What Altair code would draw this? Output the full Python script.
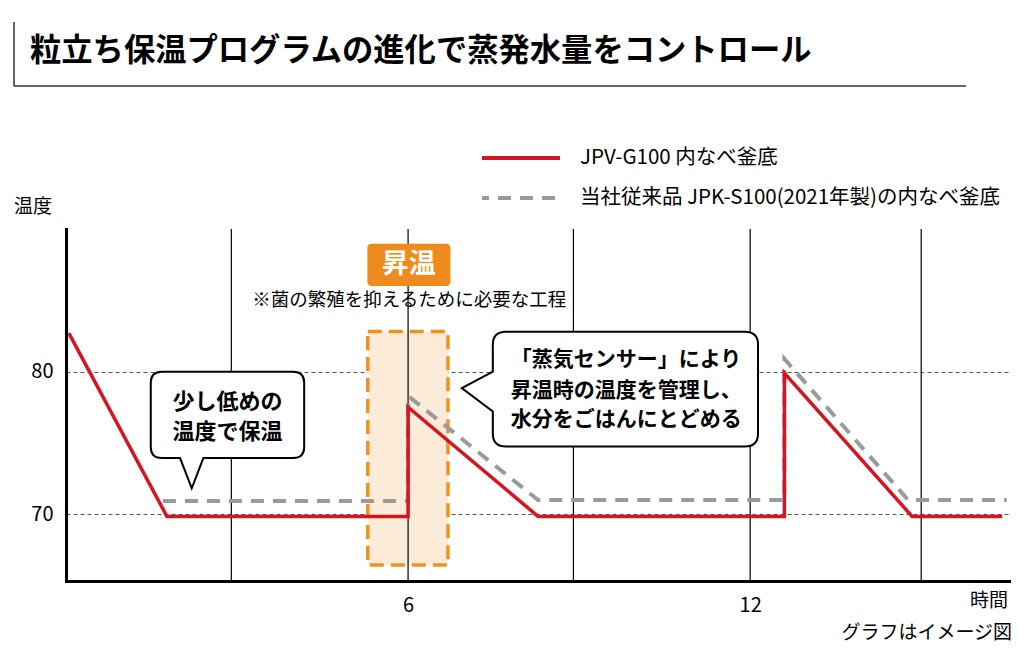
import altair as alt
import pandas as pd

# ---------------- data ----------------
series_names = ["JPV-G100 内なべ釜底", "当社従来品 JPK-S100(2021年製)の内なべ釜底"]
red_x = [0.05, 1.77, 6.0, 6.0, 8.28, 12.6, 12.6, 14.84, 16.42]
red_y = [82.7, 69.85, 69.85, 77.5, 69.85, 69.85, 79.9, 69.85, 69.85]
gray_x = [1.70, 6.0, 6.0, 8.28, 12.6, 12.6, 14.77, 16.5]
gray_y = [70.93, 70.93, 78.3, 71.0, 71.0, 80.9, 71.0, 71.0]
x_ticks = [6, 12]
y_ticks = [70, 80]
v_grid = [2.9, 6, 8.9, 12, 15]

title_text = "粒立ち保温プログラムの進化で蒸発水量をコントロール"
bubble1_lines = ["少し低めの", "温度で保温"]
bubble2_lines = ["「蒸気センサー」により", "昇温時の温度を管理し、", "水分をごはんにとどめる"]
heat_label = "昇温"
heat_note = "※菌の繁殖を抑えるために必要な工程"

FONT = "Noto Sans CJK JP"
RED = "#d7141f"
GRAY = "#9a9a9a"
ORANGE = "#ef8a1c"

xs = alt.Scale(domain=[0, 16.54], nice=False, zero=False)
ys = alt.Scale(domain=[65.32, 90.0], nice=False, zero=False)

x_axis = alt.Axis(values=x_ticks, title=None, grid=False, ticks=False, domainColor="black",
                  domainWidth=3, domainCap="square", labelFont=FONT, labelFontSize=20,
                  labelColor="black", labelPadding=14, labelFlush=False, format="d")
y_axis = alt.Axis(values=y_ticks, title=None, grid=True, gridColor="#555555", gridDash=[4, 3],
                  gridWidth=1, ticks=False, domainColor="black", domainWidth=3, domainCap="square",
                  labelFont=FONT, labelFontSize=20, labelColor="black", labelPadding=13, format="d")


def X(field="x"):
    return alt.X(f"{field}:Q", scale=xs, axis=x_axis)


def Y(field="y"):
    return alt.Y(f"{field}:Q", scale=ys, axis=y_axis)


one = pd.DataFrame({"k": [0]})

# ---------------- orange "heating" zone ----------------
zone_df = pd.DataFrame({"x": [5.293], "x2": [6.70], "y": [82.82], "y2": [66.44]})
zone_fill = alt.Chart(zone_df).mark_rect(fill="#fdebd9").encode(x=X(), x2="x2", y=Y(), y2="y2")
zone_stroke = alt.Chart(zone_df).mark_rect(fillOpacity=0, stroke="#f0931e", strokeWidth=3.5,
                                           strokeDash=[14, 7]).encode(x=X(), x2="x2", y=Y(), y2="y2")

grid_df = pd.DataFrame({"x": v_grid})
vgrid = alt.Chart(grid_df).mark_rule(color="black", strokeWidth=1.2).encode(x=X())

# ---------------- series ----------------
red_df = pd.DataFrame({"x": red_x, "y": red_y, "o": list(range(len(red_x)))})
gray_df = pd.DataFrame({"x": gray_x, "y": gray_y, "o": list(range(len(gray_x)))})

gray_line = alt.Chart(gray_df).mark_line(color=GRAY, strokeWidth=4, strokeDash=[13, 9],
                                         strokeCap="butt").encode(x=X(), y=Y(), order="o:Q")
red_line = alt.Chart(red_df).mark_line(color=RED, strokeWidth=3.5, strokeJoin="miter").encode(
    x=X(), y=Y(), order="o:Q")


# ---------------- speech bubbles ----------------
def bubble_path(W, H, r, tail, side, k=100.0):
    f = lambda v: f"{v / k:.4f}"
    p = [f"M{f(-W + r)},{f(-H)}", f"L{f(W - r)},{f(-H)}", f"Q{f(W)},{f(-H)} {f(W)},{f(-H + r)}",
         f"L{f(W)},{f(H - r)}", f"Q{f(W)},{f(H)} {f(W - r)},{f(H)}"]
    if side == "bottom":
        (b1, b2, tx, ty) = tail
        p += [f"L{f(b2)},{f(H)}", f"L{f(tx)},{f(ty)}", f"L{f(b1)},{f(H)}"]
    p += [f"L{f(-W + r)},{f(H)}", f"Q{f(-W)},{f(H)} {f(-W)},{f(H - r)}"]
    if side == "left":
        (b1, b2, tx, ty) = tail
        p += [f"L{f(-W)},{f(b2)}", f"L{f(tx)},{f(ty)}", f"L{f(-W)},{f(b1)}"]
    p += [f"L{f(-W)},{f(-H + r)}", f"Q{f(-W)},{f(-H)} {f(-W + r)},{f(-H)}", "Z"]
    return " ".join(p)


b1_path = bubble_path(76.7, 43.2, 11, (-47.4, -24.1, -35.7, 73.4), "bottom")
b2_path = bubble_path(132.6, 57.3, 13, (-17.6, 22.4, -163.6, -1.0), "left")

bub1 = alt.Chart(pd.DataFrame({"x": [2.832], "y": [76.97]})).mark_point(
    shape=b1_path, size=40000, filled=True, fill="white", stroke="black", strokeWidth=2,
    opacity=1, fillOpacity=1, strokeOpacity=1).encode(x=X(), y=Y())
bub2 = alt.Chart(pd.DataFrame({"x": [9.812], "y": [78.77]})).mark_point(
    shape=b2_path, size=40000, filled=True, fill="white", stroke="black", strokeWidth=2,
    opacity=1, fillOpacity=1, strokeOpacity=1).encode(x=X(), y=Y())

b1_text = alt.Chart(pd.DataFrame({"x": [2.833, 2.833], "y": [77.9, 75.8], "t": bubble1_lines})).mark_text(
    font=FONT, fontSize=22, fontWeight="bold", color="black", align="center", baseline="middle").encode(
    x=X(), y=Y(), text="t:N")
b2_text = alt.Chart(pd.DataFrame({"x": [7.80] * 3, "y": [80.8, 78.65, 76.6], "t": bubble2_lines})).mark_text(
    font=FONT, fontSize=21, fontWeight="bold", color="black", align="left", baseline="middle").encode(
    x=X(), y=Y(), text="t:N")

# ---------------- heating label ----------------
heat_box = alt.Chart(pd.DataFrame({"x": [5.286], "x2": [6.743], "y": [88.96], "y2": [86.01]})).mark_rect(
    fill=ORANGE, cornerRadius=4).encode(x=X(), x2="x2", y=Y(), y2="y2")
heat_txt = alt.Chart(pd.DataFrame({"x": [6.01], "y": [87.5], "t": [heat_label]})).mark_text(
    font=FONT, fontSize=27, fontWeight="bold", color="white", align="center", baseline="middle").encode(
    x=X(), y=Y(), text="t:N")
note_txt = alt.Chart(pd.DataFrame({"x": [6.02], "y": [85.03], "t": [heat_note]})).mark_text(
    font=FONT, fontSize=18.5, color="black", align="center", baseline="middle").encode(
    x=X(), y=Y(), text="t:N")

# ---------------- decorations: title, legend, axis titles ----------------
title_mark = alt.Chart(one).mark_text(text=title_text, font=FONT, fontSize=31.3, fontWeight="bold",
                                      color="black", align="left", baseline="middle").encode(
    x=alt.value(-36), y=alt.value(-177))
title_v = alt.Chart(one).mark_rule(color="#333333", strokeWidth=1.5).encode(
    x=alt.value(-52), y=alt.value(-207), y2=alt.value(-143))
title_h = alt.Chart(one).mark_rule(color="#333333", strokeWidth=1.5).encode(
    x=alt.value(-52), x2=alt.value(900), y=alt.value(-143))

leg_red = alt.Chart(one).mark_rule(color=RED, strokeWidth=4).encode(
    x=alt.value(416), x2=alt.value(494), y=alt.value(-71))
leg_gray = alt.Chart(one).mark_rule(color=GRAY, strokeWidth=4, strokeDash=[13, 9],
                                    strokeDashOffset=6).encode(
    x=alt.value(416), x2=alt.value(494), y=alt.value(-31))
leg_t1 = alt.Chart(one).mark_text(text=series_names[0], font=FONT, fontSize=20.5, color="black",
                                  align="left", baseline="middle").encode(x=alt.value(514), y=alt.value(-71))
leg_t2 = alt.Chart(one).mark_text(text=series_names[1], font=FONT, fontSize=20.5, color="black",
                                  align="left", baseline="middle").encode(x=alt.value(514), y=alt.value(-31))

ytitle = alt.Chart(one).mark_text(text="温度", font=FONT, fontSize=19, color="black", align="left",
                                  baseline="middle").encode(x=alt.value(-52), y=alt.value(-22))
xtitle = alt.Chart(one).mark_text(text="時間", font=FONT, fontSize=19, color="black", align="right",
                                  baseline="middle").encode(x=alt.value(942), y=alt.value(372))
footnote = alt.Chart(one).mark_text(text="グラフはイメージ図", font=FONT, fontSize=19, color="black",
                                    align="right", baseline="middle").encode(x=alt.value(946), y=alt.value(404))

chart = alt.layer(
    zone_fill, vgrid, zone_stroke, gray_line, red_line,
    bub1, bub2, b1_text, b2_text, heat_box, heat_txt, note_txt,
    title_mark, title_v, title_h, leg_red, leg_gray, leg_t1, leg_t2, ytitle, xtitle, footnote
).properties(
    width=943, height=352,
    autosize=alt.AutoSizeParams(type="none"),
    padding={"left": 58, "top": 221, "right": 3, "bottom": 65},
    background="white",
).configure_view(stroke=None)

chart.save("out.html", embed_options={"renderer": "svg", "actions": False})
